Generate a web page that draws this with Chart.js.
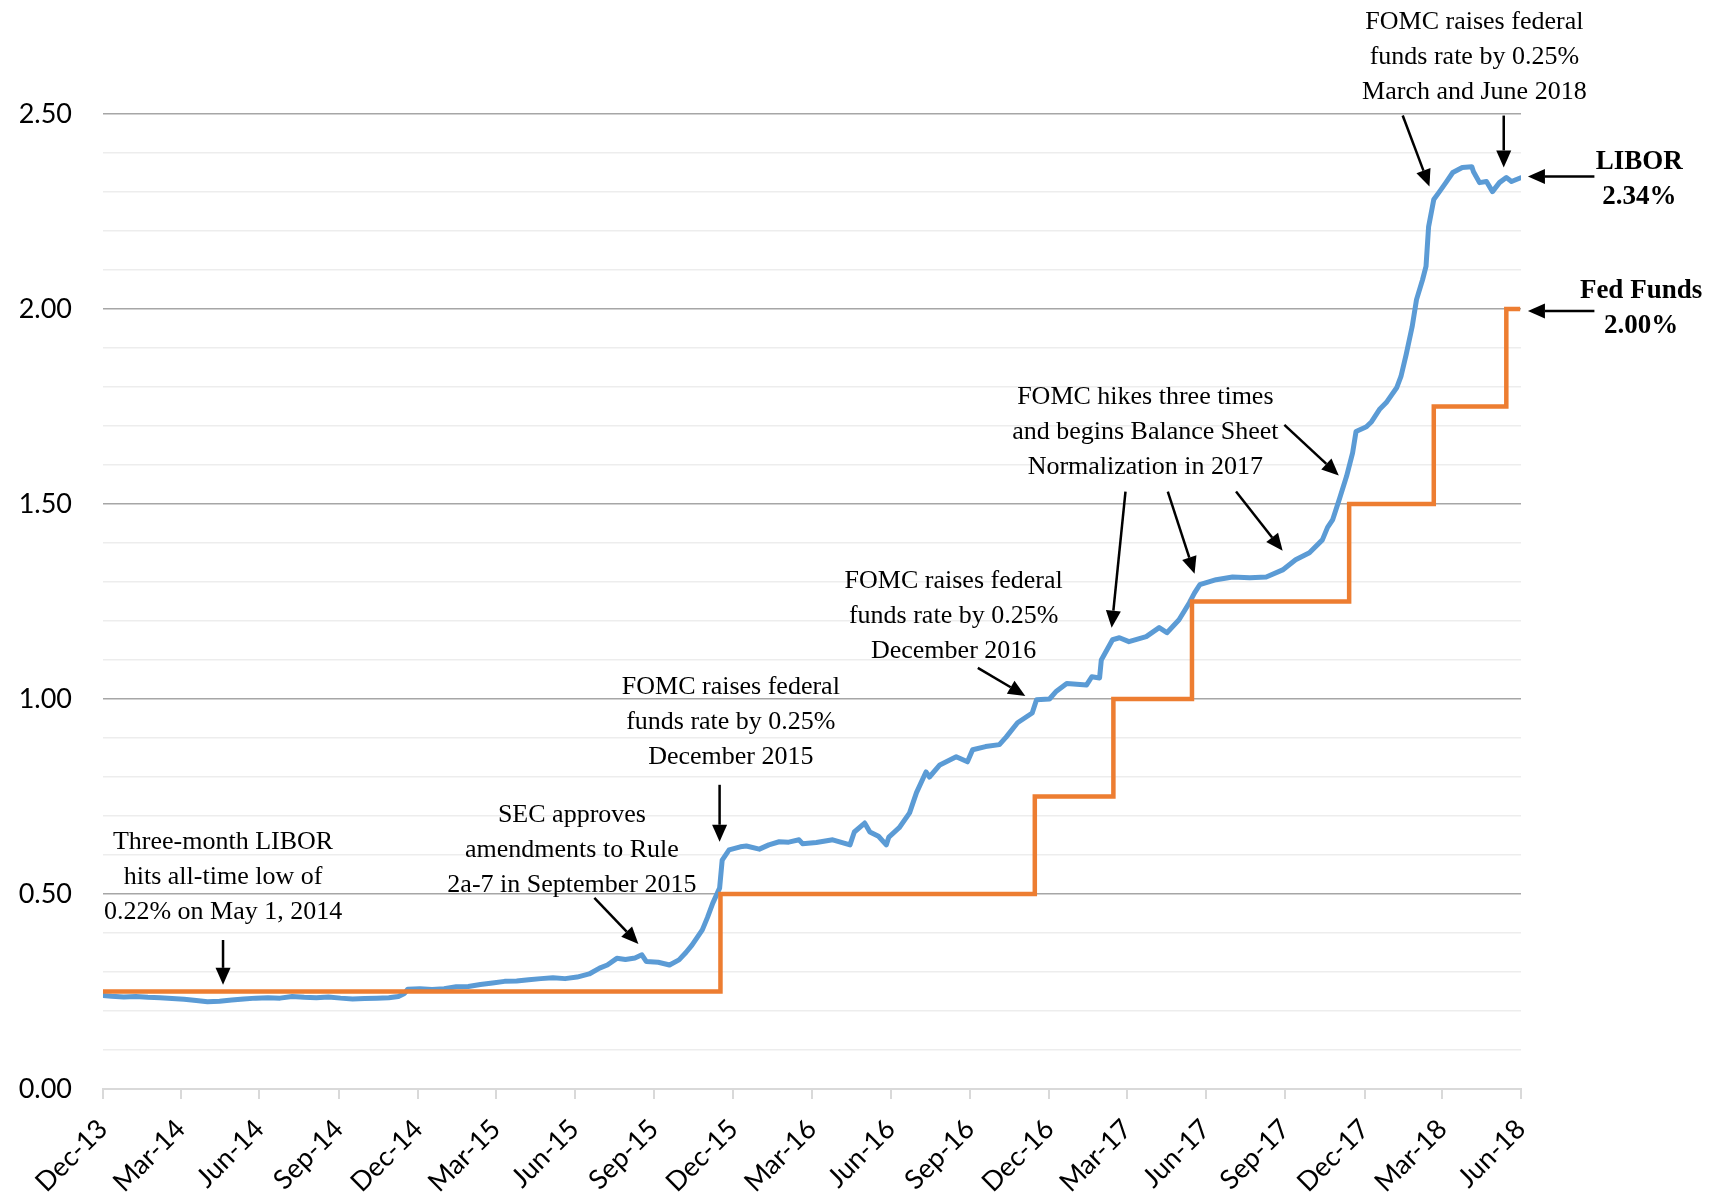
<!DOCTYPE html>
<html>
<head>
<meta charset="utf-8">
<script src="https://cdn.jsdelivr.net/npm/chart.js@4.4.1/dist/chart.umd.min.js"></script>
<style>
  html, body { margin: 0; padding: 0; background: #fff; }
  #wrap { width: 1709px; height: 1200px; }
</style>
</head>
<body>
<div id="wrap"><canvas id="chart" width="1709" height="1200"></canvas></div>
<script>
// three-month LIBOR
const libDates = [
  '2013-12-31', '2014-01-10', '2014-01-24', '2014-02-07', '2014-02-21', '2014-03-07', '2014-03-21',
  '2014-04-04', '2014-04-18', '2014-05-01', '2014-05-15', '2014-05-29', '2014-06-12', '2014-06-26',
  '2014-07-10', '2014-07-24', '2014-08-07', '2014-08-21', '2014-09-04', '2014-09-18', '2014-10-02',
  '2014-10-16', '2014-10-30', '2014-11-13', '2014-11-27', '2014-12-08', '2014-12-15', '2014-12-19',
  '2015-01-02', '2015-01-16', '2015-01-30', '2015-02-13', '2015-02-27', '2015-03-13', '2015-03-27',
  '2015-04-10', '2015-04-24', '2015-05-08', '2015-05-22', '2015-06-05', '2015-06-19', '2015-07-03',
  '2015-07-17', '2015-07-29', '2015-08-07', '2015-08-18', '2015-08-28', '2015-09-08', '2015-09-16',
  '2015-09-21', '2015-10-05', '2015-10-18', '2015-10-29', '2015-11-06', '2015-11-13', '2015-11-25',
  '2015-12-01', '2015-12-07', '2015-12-15', '2015-12-18', '2015-12-26', '2016-01-08', '2016-01-15',
  '2016-01-30', '2016-02-10', '2016-02-22', '2016-03-04', '2016-03-16', '2016-03-20', '2016-04-05',
  '2016-04-24', '2016-05-14', '2016-05-19', '2016-05-31', '2016-06-06', '2016-06-16', '2016-06-25',
  '2016-06-28', '2016-07-10', '2016-07-22', '2016-07-30', '2016-08-10', '2016-08-14', '2016-08-26',
  '2016-09-14', '2016-09-27', '2016-10-03', '2016-10-18', '2016-11-03', '2016-11-11', '2016-11-24',
  '2016-12-11', '2016-12-16', '2016-12-31', '2017-01-08', '2017-01-20', '2017-02-12', '2017-02-18',
  '2017-02-27', '2017-03-01', '2017-03-14', '2017-03-22', '2017-04-02', '2017-04-22', '2017-05-07',
  '2017-05-16', '2017-05-30', '2017-06-11', '2017-06-17', '2017-06-23', '2017-07-12', '2017-07-31',
  '2017-08-20', '2017-09-08', '2017-09-27', '2017-10-12', '2017-10-28', '2017-11-12', '2017-11-18',
  '2017-11-24', '2017-12-02', '2017-12-10', '2017-12-17', '2017-12-21', '2018-01-02', '2018-01-08',
  '2018-01-17', '2018-01-25', '2018-02-06', '2018-02-11', '2018-02-17', '2018-02-24', '2018-03-01',
  '2018-03-08', '2018-03-12', '2018-03-15', '2018-03-21', '2018-03-27', '2018-04-04', '2018-04-12',
  '2018-04-23', '2018-05-04', '2018-05-06', '2018-05-13', '2018-05-21', '2018-05-28', '2018-06-05',
  '2018-06-13', '2018-06-19', '2018-06-29'
];
const libValues = [
  0.240, 0.238, 0.236, 0.237, 0.235, 0.234, 0.232,
  0.230, 0.227, 0.224, 0.225, 0.228, 0.231, 0.233,
  0.234, 0.233, 0.237, 0.235, 0.234, 0.236, 0.233,
  0.231, 0.232, 0.233, 0.234, 0.237, 0.245, 0.256,
  0.257, 0.255, 0.257, 0.262, 0.263, 0.268, 0.272,
  0.276, 0.277, 0.280, 0.283, 0.285, 0.283, 0.287,
  0.295, 0.310, 0.318, 0.335, 0.332, 0.336, 0.344,
  0.327, 0.325, 0.318, 0.331, 0.350, 0.369, 0.408,
  0.440, 0.476, 0.515, 0.587, 0.613, 0.621, 0.623,
  0.615, 0.626, 0.634, 0.633, 0.639, 0.629, 0.632,
  0.639, 0.626, 0.659, 0.682, 0.659, 0.648, 0.626,
  0.646, 0.670, 0.708, 0.760, 0.813, 0.800, 0.831,
  0.852, 0.839, 0.870, 0.878, 0.883, 0.903, 0.939,
  0.964, 0.998, 1.000, 1.020, 1.040, 1.036, 1.057,
  1.054, 1.100, 1.152, 1.157, 1.147, 1.160, 1.183,
  1.170, 1.203, 1.247, 1.272, 1.293, 1.306, 1.313,
  1.311, 1.313, 1.331, 1.357, 1.375, 1.408, 1.440,
  1.460, 1.515, 1.571, 1.631, 1.686, 1.698, 1.711,
  1.742, 1.760, 1.798, 1.827, 1.883, 1.955, 2.024,
  2.075, 2.109, 2.211, 2.281, 2.299, 2.324, 2.350,
  2.363, 2.365, 2.352, 2.324, 2.327, 2.301, 2.324,
  2.337, 2.327, 2.336
];

// fed funds target (upper bound), changes on FOMC dates
const fedDates = ['2013-12-31', '2015-12-16', '2016-12-14', '2017-03-15', '2017-06-14', '2017-12-13', '2018-03-21', '2018-06-13', '2018-06-29'];
const fedValues = [0.25, 0.50, 0.75, 1.00, 1.25, 1.50, 1.75, 2.00, 2.00];

// quarter-end ticks
const tickDates = [
  '2013-12-31', '2014-03-31', '2014-06-30', '2014-09-30', '2014-12-31', '2015-03-31', '2015-06-30',
  '2015-09-30', '2015-12-31', '2016-03-31', '2016-06-30', '2016-09-30', '2016-12-31', '2017-03-31',
  '2017-06-30', '2017-09-30', '2017-12-31', '2018-03-31', '2018-06-30'
];
const tickLabels = [
  'Dec-13', 'Mar-14', 'Jun-14', 'Sep-14', 'Dec-14', 'Mar-15', 'Jun-15', 'Sep-15', 'Dec-15', 'Mar-16',
  'Jun-16', 'Sep-16', 'Dec-16', 'Mar-17', 'Jun-17', 'Sep-17', 'Dec-17', 'Mar-18', 'Jun-18'
];

// callouts, anchored in data units (date, value of first line)
const notes = [
  { date: '2018-05-07', value: 2.740, lines: ['FOMC raises federal', 'funds rate by 0.25%', 'March and June 2018'] },
  { date: '2018-11-14', value: 2.383, lines: ['LIBOR', '2.34%'], bold: true },
  { date: '2018-11-16', value: 2.050, lines: ['Fed Funds', '2.00%'], bold: true },
  { date: '2017-04-21', value: 1.780, lines: ['FOMC hikes three times', 'and begins Balance Sheet', 'Normalization in 2017'] },
  { date: '2016-09-11', value: 1.308, lines: ['FOMC raises federal', 'funds rate by 0.25%', 'December 2016'] },
  { date: '2015-12-28', value: 1.036, lines: ['FOMC raises federal', 'funds rate by 0.25%', 'December 2015'] },
  { date: '2015-06-27', value: 0.708, lines: ['SEC approves', 'amendments to Rule', '2a-7 in September 2015'] },
  { date: '2014-05-19', value: 0.639, lines: ['Three-month LIBOR', 'hits all-time low of', '0.22% on May 1, 2014'] }
];
const arrows = [
  [['2018-02-13', 2.496], ['2018-03-16', 2.314]],
  [['2018-06-10', 2.496], ['2018-06-10', 2.363]],
  [['2018-09-23', 2.340], ['2018-07-08', 2.340]],
  [['2018-09-23', 1.995], ['2018-07-08', 1.995]],
  [['2017-03-29', 1.532], ['2017-03-13', 1.183]],
  [['2017-05-17', 1.532], ['2017-06-17', 1.321]],
  [['2017-08-04', 1.532], ['2017-09-27', 1.380]],
  [['2017-09-29', 1.703], ['2017-12-01', 1.573]],
  [['2016-10-09', 1.080], ['2016-12-03', 1.008]],
  [['2015-12-15', 0.780], ['2015-12-15', 0.634]],
  [['2015-07-23', 0.490], ['2015-09-12', 0.372]],
  [['2014-05-19', 0.382], ['2014-05-19', 0.267]]
];

const start = Date.parse('2013-12-31');
const dayOf = s => (Date.parse(s) - start) / 864e5;

const libor = libDates.map((d, i) => ({ x: dayOf(d), y: libValues[i] }));
const fed = fedDates.map((d, i) => ({ x: dayOf(d), y: fedValues[i] }));

const isMajor = v => Math.abs(v * 2 - Math.round(v * 2)) < 1e-6;

const callouts = {
  id: 'callouts',
  afterDatasetsDraw(chart) {
    const { ctx, scales: { x, y } } = chart;
    ctx.save();
    ctx.fillStyle = '#000';
    ctx.strokeStyle = '#000';
    ctx.textAlign = 'center';
    ctx.textBaseline = 'middle';
    notes.forEach(n => {
      ctx.font = n.bold ? 'bold 27px "Liberation Serif"' : '26px "Liberation Serif"';
      const px = x.getPixelForValue(dayOf(n.date));
      const py = y.getPixelForValue(n.value) + 2;
      n.lines.forEach((t, i) => ctx.fillText(t, px, py + i * 35));
    });

    ctx.lineWidth = 2.5;
    arrows.forEach(([a, b]) => {
      const x1 = x.getPixelForValue(dayOf(a[0])), y1 = y.getPixelForValue(a[1]);
      const x2 = x.getPixelForValue(dayOf(b[0])), y2 = y.getPixelForValue(b[1]);
      const ang = Math.atan2(y2 - y1, x2 - x1);
      const len = 17, half = 7.5;
      const bx = x2 - len * Math.cos(ang), by = y2 - len * Math.sin(ang);
      ctx.beginPath();
      ctx.moveTo(x1, y1);
      ctx.lineTo(bx, by);
      ctx.stroke();
      ctx.beginPath();
      ctx.moveTo(x2, y2);
      ctx.lineTo(bx + half * Math.sin(ang), by - half * Math.cos(ang));
      ctx.lineTo(bx - half * Math.sin(ang), by + half * Math.cos(ang));
      ctx.closePath();
      ctx.fill();
    });
    ctx.restore();
  }
};

new Chart(document.getElementById('chart').getContext('2d'), {
  type: 'line',
  data: {
    datasets: [
      {
        label: 'Fed Funds',
        data: fed,
        borderColor: '#ED7D31',
        borderWidth: 4.5,
        stepped: 'before',
        pointRadius: 0,
        fill: false
      },
      {
        label: 'LIBOR',
        data: libor,
        borderColor: '#5B9BD5',
        borderWidth: 5,
        borderJoinStyle: 'round',
        borderCapStyle: 'round',
        tension: 0,
        pointRadius: 0,
        fill: false
      }
    ]
  },
  options: {
    responsive: false,
    animation: false,
    devicePixelRatio: 1,
    layout: { padding: { top: 114, right: 188, bottom: 0, left: 0 } },
    plugins: { legend: { display: false }, tooltip: { enabled: false } },
    scales: {
      x: {
        type: 'linear',
        min: 0,
        max: dayOf('2018-06-30'),
        afterBuildTicks: scale => {
          scale.ticks = tickDates.map(d => ({ value: dayOf(d) }));
        },
        afterFit: scale => { scale.height = 111; },
        ticks: {
          autoSkip: false,
          minRotation: 45,
          maxRotation: 45,
          padding: 14,
          color: '#000',
          font: { family: 'Lato', size: 27 },
          callback: (v, i) => tickLabels[i]
        },
        grid: { drawOnChartArea: false, drawTicks: true, tickLength: 10, color: '#D9D9D9', lineWidth: 2 },
        border: { display: true, color: '#D9D9D9', width: 2 }
      },
      y: {
        min: 0,
        max: 2.5,
        afterFit: scale => { scale.width = 103; },
        ticks: {
          stepSize: 0.1,
          padding: 31,
          color: '#000',
          font: { family: 'Lato', size: 27 },
          callback: v => (isMajor(v) ? v.toFixed(2) : '')
        },
        grid: {
          drawTicks: false,
          color: c => (isMajor(c.tick.value) ? '#A6A6A6' : '#EDEDED'),
          lineWidth: 1.5
        },
        border: { display: false }
      }
    }
  },
  plugins: [callouts]
});
</script>
</body>
</html>
